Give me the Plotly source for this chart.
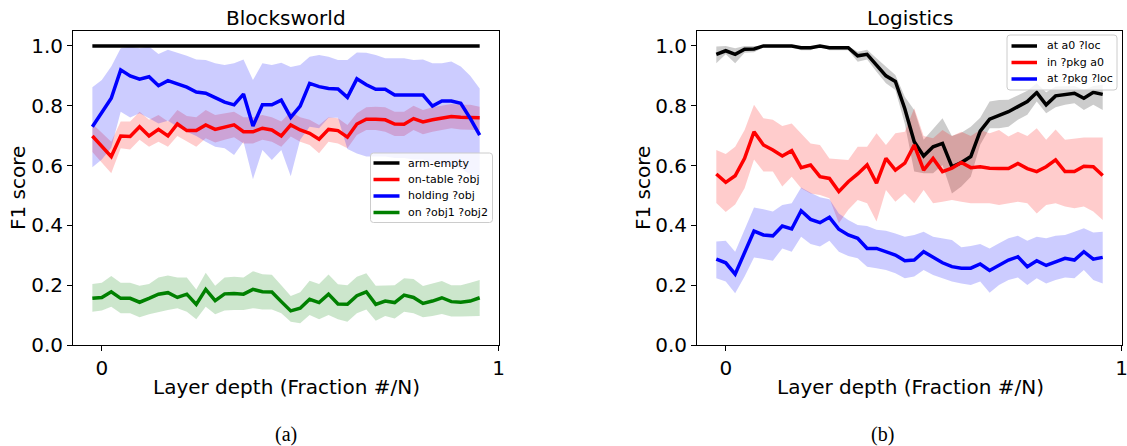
import plotly.graph_objects as go

W, H = 1127, 446

# ---------------- data ----------------
N_LAYERS = 42
layer_index = list(range(-1, 41))          # layer index (#), N = 42
layer_depth = [i / N_LAYERS for i in layer_index]

# Blocksworld
bw_arm_empty = [1.0] * 42

bw_on_table = [0.699, 0.666, 0.630, 0.699, 0.697, 0.730, 0.699, 0.721, 0.699, 0.739, 0.717, 0.717, 0.736, 0.721,
               0.728, 0.736, 0.713, 0.713, 0.725, 0.719, 0.699, 0.736, 0.719, 0.708, 0.688, 0.721, 0.717, 0.695,
               0.739, 0.755, 0.755, 0.753, 0.739, 0.738, 0.757, 0.746, 0.753, 0.759, 0.764, 0.762, 0.762, 0.760]
bw_on_table_hi = [0.740, 0.710, 0.680, 0.747, 0.747, 0.780, 0.753, 0.769, 0.747, 0.786, 0.766, 0.762, 0.786, 0.769,
                  0.775, 0.780, 0.762, 0.762, 0.769, 0.762, 0.747, 0.780, 0.762, 0.753, 0.736, 0.762, 0.758, 0.736,
                  0.775, 0.795, 0.797, 0.795, 0.780, 0.780, 0.800, 0.786, 0.795, 0.800, 0.806, 0.803, 0.803, 0.797]
bw_on_table_lo = [0.645, 0.610, 0.574, 0.658, 0.654, 0.686, 0.663, 0.680, 0.663, 0.699, 0.680, 0.663, 0.691, 0.677,
                  0.686, 0.695, 0.674, 0.674, 0.686, 0.680, 0.663, 0.697, 0.680, 0.669, 0.641, 0.680, 0.674, 0.658,
                  0.702, 0.719, 0.719, 0.713, 0.699, 0.699, 0.719, 0.705, 0.713, 0.719, 0.725, 0.721, 0.721, 0.719]

bw_holding = [0.730, 0.777, 0.825, 0.920, 0.900, 0.889, 0.897, 0.867, 0.884, 0.873, 0.862, 0.846, 0.842, 0.827,
              0.812, 0.803, 0.839, 0.732, 0.803, 0.803, 0.819, 0.761, 0.799, 0.875, 0.864, 0.858, 0.856, 0.828,
              0.890, 0.870, 0.855, 0.855, 0.836, 0.836, 0.836, 0.836, 0.799, 0.816, 0.816, 0.808, 0.758, 0.702]
bw_holding_hi = [0.862, 0.886, 0.931, 0.992, 0.998, 0.992, 0.998, 0.973, 0.987, 0.978, 0.967, 0.955, 0.953, 0.942,
                 0.936, 0.942, 0.955, 0.886, 0.942, 0.936, 0.944, 0.930, 0.936, 0.964, 0.970, 0.964, 0.953, 0.953,
                 0.978, 0.977, 0.970, 0.959, 0.959, 0.959, 0.953, 0.955, 0.942, 0.942, 0.948, 0.931, 0.900, 0.858]
bw_holding_lo = [0.594, 0.620, 0.660, 0.780, 0.761, 0.775, 0.758, 0.741, 0.750, 0.730, 0.713, 0.699, 0.680, 0.663,
                 0.658, 0.635, 0.680, 0.554, 0.652, 0.619, 0.652, 0.564, 0.686, 0.730, 0.725, 0.760, 0.760, 0.655,
                 0.640, 0.630, 0.630, 0.630, 0.625, 0.625, 0.620, 0.620, 0.610, 0.605, 0.600, 0.590, 0.570, 0.550]

bw_on = [0.156, 0.159, 0.178, 0.156, 0.156, 0.143, 0.156, 0.170, 0.175, 0.159, 0.170, 0.136, 0.186, 0.148,
         0.171, 0.172, 0.170, 0.186, 0.178, 0.177, 0.145, 0.114, 0.123, 0.153, 0.142, 0.170, 0.137, 0.136,
         0.165, 0.178, 0.136, 0.147, 0.142, 0.167, 0.159, 0.139, 0.147, 0.158, 0.145, 0.143, 0.147, 0.158]
bw_on_hi = [0.204, 0.208, 0.231, 0.208, 0.208, 0.198, 0.204, 0.226, 0.232, 0.226, 0.226, 0.186, 0.242, 0.198,
            0.226, 0.228, 0.226, 0.247, 0.237, 0.235, 0.200, 0.164, 0.176, 0.215, 0.204, 0.236, 0.203, 0.200,
            0.228, 0.240, 0.198, 0.200, 0.200, 0.223, 0.221, 0.197, 0.206, 0.214, 0.200, 0.200, 0.208, 0.217]
bw_on_lo = [0.111, 0.115, 0.128, 0.106, 0.106, 0.093, 0.103, 0.111, 0.117, 0.123, 0.111, 0.086, 0.128, 0.103,
            0.115, 0.117, 0.117, 0.123, 0.119, 0.119, 0.106, 0.078, 0.073, 0.100, 0.086, 0.100, 0.086, 0.078,
            0.106, 0.119, 0.081, 0.097, 0.089, 0.111, 0.106, 0.093, 0.097, 0.104, 0.095, 0.095, 0.097, 0.097]

# Logistics
lg_at_a0 = [0.972, 0.984, 0.972, 0.989, 0.990, 1.000, 1.000, 1.000, 1.000, 0.994, 0.994, 1.000, 0.994, 0.994,
            0.994, 0.967, 0.972, 0.936, 0.900, 0.881, 0.790, 0.680, 0.632, 0.663, 0.674, 0.596, 0.610, 0.630,
            0.715, 0.755, 0.766, 0.780, 0.797, 0.814, 0.844, 0.803, 0.833, 0.839, 0.842, 0.825, 0.845, 0.838]
lg_at_a0_hi = [0.998, 1.000, 0.992, 1.000, 1.000, 1.000, 1.000, 1.000, 1.000, 1.000, 1.000, 1.000, 1.000, 1.000,
               1.000, 0.981, 0.987, 0.959, 0.931, 0.903, 0.830, 0.786, 0.686, 0.721, 0.758, 0.699, 0.710, 0.730,
               0.760, 0.814, 0.819, 0.820, 0.836, 0.850, 0.875, 0.845, 0.864, 0.866, 0.866, 0.853, 0.866, 0.870]
lg_at_a0_lo = [0.942, 0.972, 0.942, 0.977, 0.979, 0.995, 0.995, 0.995, 0.995, 0.986, 0.986, 1.000, 0.986, 0.986,
               0.986, 0.947, 0.955, 0.914, 0.875, 0.853, 0.740, 0.580, 0.574, 0.574, 0.602, 0.507, 0.530, 0.563,
               0.670, 0.725, 0.725, 0.730, 0.753, 0.770, 0.814, 0.775, 0.795, 0.803, 0.808, 0.786, 0.803, 0.786]

lg_in_pkg = [0.572, 0.544, 0.566, 0.624, 0.713, 0.669, 0.652, 0.632, 0.650, 0.593, 0.602, 0.563, 0.557, 0.513,
             0.546, 0.572, 0.602, 0.541, 0.624, 0.585, 0.608, 0.669, 0.585, 0.624, 0.580, 0.591, 0.610, 0.593,
             0.596, 0.591, 0.590, 0.590, 0.607, 0.590, 0.580, 0.596, 0.619, 0.580, 0.580, 0.598, 0.596, 0.567]
lg_in_pkg_hi = [0.652, 0.639, 0.663, 0.719, 0.803, 0.758, 0.753, 0.732, 0.741, 0.708, 0.674, 0.669, 0.624, 0.621,
                0.619, 0.663, 0.663, 0.708, 0.669, 0.708, 0.713, 0.792, 0.699, 0.691, 0.719, 0.699, 0.713, 0.699,
                0.719, 0.708, 0.719, 0.697, 0.713, 0.699, 0.725, 0.686, 0.721, 0.686, 0.691, 0.694, 0.694, 0.694]
lg_in_pkg_lo = [0.475, 0.445, 0.470, 0.524, 0.620, 0.580, 0.580, 0.530, 0.563, 0.524, 0.507, 0.502, 0.491, 0.407,
                0.452, 0.485, 0.474, 0.413, 0.518, 0.479, 0.507, 0.474, 0.518, 0.474, 0.479, 0.485, 0.479, 0.474,
                0.474, 0.474, 0.468, 0.474, 0.479, 0.474, 0.440, 0.468, 0.474, 0.463, 0.457, 0.463, 0.446, 0.418]

lg_at_pkg = [0.287, 0.275, 0.237, 0.307, 0.381, 0.368, 0.365, 0.398, 0.388, 0.449, 0.420, 0.409, 0.427, 0.387,
             0.368, 0.357, 0.323, 0.323, 0.312, 0.301, 0.282, 0.284, 0.312, 0.293, 0.275, 0.262, 0.257, 0.257,
             0.271, 0.249, 0.268, 0.284, 0.295, 0.262, 0.282, 0.266, 0.278, 0.290, 0.284, 0.312, 0.287, 0.293]
lg_at_pkg_hi = [0.346, 0.349, 0.312, 0.385, 0.460, 0.454, 0.446, 0.468, 0.474, 0.527, 0.509, 0.494, 0.487, 0.440,
                0.418, 0.401, 0.398, 0.385, 0.382, 0.373, 0.362, 0.368, 0.379, 0.362, 0.357, 0.351, 0.327, 0.331,
                0.338, 0.323, 0.340, 0.357, 0.365, 0.349, 0.362, 0.357, 0.365, 0.368, 0.379, 0.390, 0.376, 0.379]
lg_at_pkg_lo = [0.223, 0.212, 0.173, 0.229, 0.293, 0.287, 0.282, 0.323, 0.312, 0.362, 0.338, 0.329, 0.349, 0.312,
                0.298, 0.290, 0.262, 0.257, 0.251, 0.240, 0.223, 0.229, 0.251, 0.234, 0.223, 0.212, 0.206, 0.201,
                0.212, 0.175, 0.201, 0.217, 0.226, 0.201, 0.223, 0.206, 0.217, 0.226, 0.223, 0.251, 0.217, 0.206]

y_ticks = [0.0, 0.2, 0.4, 0.6, 0.8, 1.0]
x_ticks = [0, 1]

# series: (name, mean, lo, hi, line colour, band colour)
blocks_series = [
    ("arm-empty", bw_arm_empty, None, None, "#000000", "rgba(0,0,0,0.2)"),
    ("on-table ?obj", bw_on_table, bw_on_table_lo, bw_on_table_hi, "#ff0000", "rgba(255,0,0,0.2)"),
    ("holding ?obj", bw_holding, bw_holding_lo, bw_holding_hi, "#0000ff", "rgba(0,0,255,0.2)"),
    ("on ?obj1 ?obj2", bw_on, bw_on_lo, bw_on_hi, "#008000", "rgba(0,128,0,0.2)"),
]
logistics_series = [
    ("at a0 ?loc", lg_at_a0, lg_at_a0_lo, lg_at_a0_hi, "#000000", "rgba(0,0,0,0.2)"),
    ("in ?pkg a0", lg_in_pkg, lg_in_pkg_lo, lg_in_pkg_hi, "#ff0000", "rgba(255,0,0,0.2)"),
    ("at ?pkg ?loc", lg_at_pkg, lg_at_pkg_lo, lg_at_pkg_hi, "#0000ff", "rgba(0,0,255,0.2)"),
]

FONT = "DejaVu Sans"
LW = 3.5

fig = go.Figure()


def add_bands(series, xa, ya):
    for name, mean, lo, hi, col, band in series:
        if lo is None:
            continue
        fig.add_trace(go.Scatter(x=layer_depth, y=hi, mode="lines", line=dict(width=0),
                                 xaxis=xa, yaxis=ya, showlegend=False, hoverinfo="skip"))
        fig.add_trace(go.Scatter(x=layer_depth, y=lo, mode="lines", line=dict(width=0),
                                 fill="tonexty", fillcolor=band,
                                 xaxis=xa, yaxis=ya, showlegend=False, hoverinfo="skip"))


def add_lines(series, xa, ya):
    for name, mean, lo, hi, col, band in series:
        fig.add_trace(go.Scatter(x=layer_depth, y=mean, mode="lines", name=name,
                                 line=dict(color=col, width=LW), xaxis=xa, yaxis=ya, showlegend=False))


add_bands(blocks_series, "x", "y")
add_bands(logistics_series, "x2", "y2")
add_lines(blocks_series, "x", "y")
add_lines(logistics_series, "x2", "y2")


# page pixel -> paper fraction
def px(x):
    return x / W


def py(y):
    return 1 - y / H


xr = [-0.0726, 1.0011]
yr = [0, 1.05]
axis_common = dict(showline=True, mirror=True, linecolor="black", linewidth=1,
                   ticks="outside", ticklen=5, tickwidth=1, tickcolor="black",
                   showgrid=False, zeroline=False, ticklabeloverflow="allow",
                   tickfont=dict(family=FONT, size=20, color="black"), automargin=False)

fig.update_layout(
    width=W, height=H,
    margin=dict(l=0, r=0, t=0, b=0),
    paper_bgcolor="white", plot_bgcolor="white",
    font=dict(family=FONT, color="black"),
    showlegend=False,
    xaxis=dict(domain=[px(73), px(499)], range=xr, tickvals=x_ticks, anchor="y", **axis_common),
    yaxis=dict(domain=[py(345), py(31)], range=yr, tickvals=y_ticks, tickformat=".1f", anchor="x", **axis_common),
    xaxis2=dict(domain=[px(697), px(1122)], range=xr, tickvals=x_ticks, anchor="y2", **axis_common),
    yaxis2=dict(domain=[py(345), py(31)], range=yr, tickvals=y_ticks, tickformat=".1f", anchor="x2", **axis_common),
)

annotations = []
shapes = []


def text(x, y, s, size=20, angle=0, family=FONT, xanchor="center"):
    annotations.append(dict(x=px(x), y=py(y), xref="paper", yref="paper", text=s, showarrow=False,
                            textangle=angle, xanchor=xanchor, yanchor="middle",
                            font=dict(family=family, size=size, color="black")))


# titles, axis labels, captions
text(286, 18, "Blocksworld")
text(910, 18, "Logistics")
text(18, 188, "F1 score", angle=-90)
text(643, 188, "F1 score", angle=-90)
text(286, 387, "Layer depth (Fraction #/N)")
text(910, 387, "Layer depth (Fraction #/N)")
text(286, 434, "(a)", family="Liberation Serif")
text(882, 434, "(b)", family="Liberation Serif")


def legend_box(x0, y0, x1, y1, entries, line_x0, line_x1, text_x):
    r = 3
    X0, X1 = px(x0), px(x1)
    Y0, Y1 = py(y0), py(y1)
    rx, ry = r / W, r / H
    path = (f"M{X0 + rx},{Y0} L{X1 - rx},{Y0} Q{X1},{Y0} {X1},{Y0 - ry} "
            f"L{X1},{Y1 + ry} Q{X1},{Y1} {X1 - rx},{Y1} L{X0 + rx},{Y1} Q{X0},{Y1} {X0},{Y1 + ry} "
            f"L{X0},{Y0 - ry} Q{X0},{Y0} {X0 + rx},{Y0} Z")
    shapes.append(dict(type="path", path=path, xref="paper", yref="paper",
                       fillcolor="rgba(255,255,255,0.8)", line=dict(color="rgba(204,204,204,1)", width=1)))
    for (name, col), ey in entries:
        shapes.append(dict(type="line", xref="paper", yref="paper", x0=px(line_x0), x1=px(line_x1),
                           y0=py(ey), y1=py(ey), line=dict(color=col, width=LW)))
        text(text_x, ey, name, size=11, xanchor="left")


legend_box(370.5, 153, 492.5, 222.5,
           [((s[0], s[4]), ey) for s, ey in zip(blocks_series, [163, 179.5, 196, 212.5])],
           373.5, 399.5, 406)
legend_box(1007, 35, 1117, 90,
           [((s[0], s[4]), ey) for s, ey in zip(logistics_series, [46, 62.5, 79])],
           1011.5, 1037, 1045)

fig.update_layout(annotations=annotations, shapes=shapes)
fig.write_html("out.html",
               config={"displayModeBar": False},
               post_script="document.body.style.margin='0';document.documentElement.style.overflow='hidden';")
